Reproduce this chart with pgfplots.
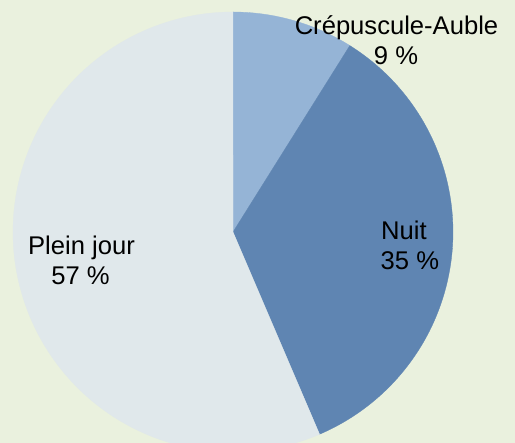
\documentclass[border=0pt]{standalone}
\usepackage{pgfplots}
\pgfplotsset{compat=1.18}
\usepackage{fontspec}
\setmainfont{Liberation Sans}
\definecolor{bg}{HTML}{EAF1DE}
\definecolor{cCrep}{HTML}{95B4D6}
\definecolor{cNuit}{HTML}{5F85B2}
\definecolor{cJour}{HTML}{E0E8EB}
% values (percent): Crepuscule-Auble 9, Nuit 35, Plein jour 57 (total 101)
\def\vA{9}\def\vB{35}\def\vC{57}
\pgfmathsetmacro{\tot}{\vA+\vB+\vC}
\pgfmathsetmacro{\aA}{\vA/\tot*360}
\pgfmathsetmacro{\aB}{(\vA+\vB)/\tot*360}
\def\cx{233}\def\cy{211}\def\rr{220}
\begin{document}
\begin{tikzpicture}
\begin{axis}[
  scale only axis, width=515bp, height=443bp,
  xmin=0, xmax=515, ymin=0, ymax=443,
  hide axis, clip=true, clip bounding box=upper bound,
]
\addplot[fill=bg, draw=none] coordinates {(0,0) (515,0) (515,443) (0,443)} -- cycle;
\addplot[fill=cCrep, draw=cCrep, line width=0.3pt, domain=0:\aA, samples=60, variable=\t]
  ({\cx+\rr*sin(\t)},{\cy+\rr*cos(\t)}) -- (axis cs:\cx,\cy) -- cycle;
\addplot[fill=cNuit, draw=cNuit, line width=0.3pt, domain=\aA:\aB, samples=120, variable=\t]
  ({\cx+\rr*sin(\t)},{\cy+\rr*cos(\t)}) -- (axis cs:\cx,\cy) -- cycle;
\addplot[fill=cJour, draw=cJour, line width=0.3pt, domain=\aB:360, samples=200, variable=\t]
  ({\cx+\rr*sin(\t)},{\cy+\rr*cos(\t)}) -- (axis cs:\cx,\cy) -- cycle;
\begin{scope}[every node/.style={font=\fontsize{25.6bp}{30bp}\selectfont, inner sep=0pt, text=black}]
\node[anchor=base] at (axis cs:396.5,408) {Crépuscule-Auble};
\node[anchor=base] at (axis cs:396,378) {9 \%};
\node[anchor=base west] at (axis cs:381,203.7) {Nuit};
\node[anchor=base west] at (axis cs:380.5,173) {35 \%};
\node[anchor=base] at (axis cs:81.5,188) {Plein jour};
\node[anchor=base] at (axis cs:80.5,158) {57 \%};
\end{scope}
\end{axis}
\end{tikzpicture}
\end{document}
